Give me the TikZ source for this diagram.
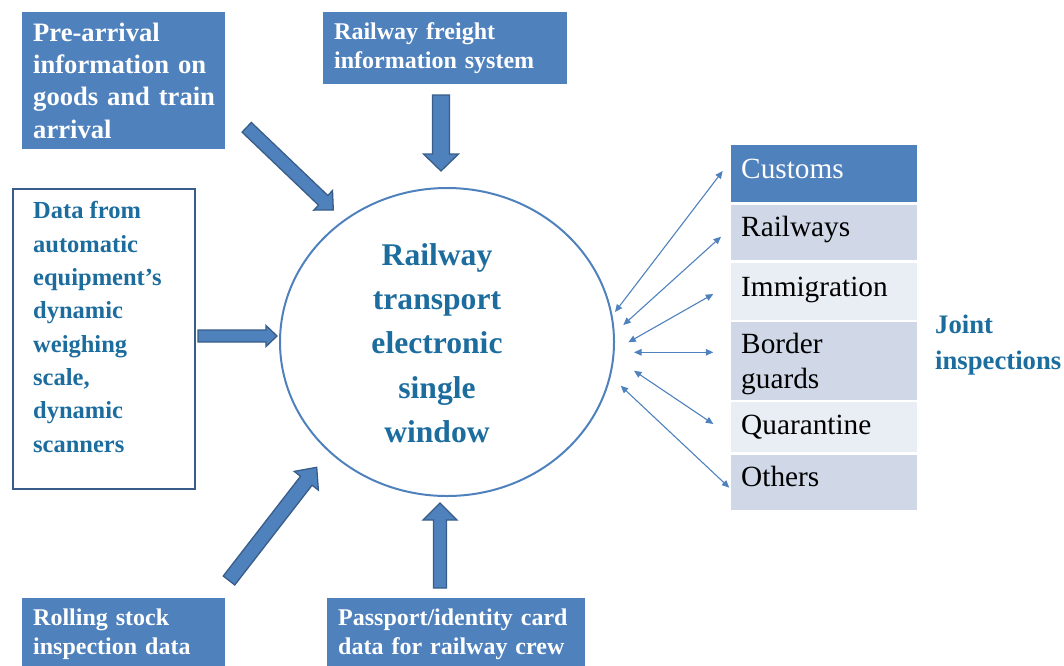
\documentclass[tikz,border=0pt]{standalone}
\usepackage{fontspec}
\setmainfont{Liberation Serif}
\usepackage{xcolor}
\usepackage{tikz}
\usetikzlibrary{positioning,calc,shapes.geometric,arrows.meta}
\definecolor{boxblue}{RGB}{79,129,189}
\definecolor{edgeblue}{RGB}{56,93,138}
\definecolor{textblue}{RGB}{28,108,158}
\definecolor{rowdark}{RGB}{208,216,232}
\definecolor{rowlight}{RGB}{233,237,244}
\tikzset{
    infobox/.style={rectangle, fill=boxblue, anchor=north west, align=left, text=white, inner xsep=11pt, inner ysep=0pt, font=\bfseries\fontsize{24}{28.3}\selectfont},
    tablerow/.style={rectangle, draw=white, line width=2.5pt, minimum width=188pt, inner sep=0pt, outer sep=0pt},
    rowtext/.style={anchor=base west, inner sep=0pt, align=left, font=\fontsize{29.3}{35}\selectfont},
    fatarrow/.style={fill=boxblue, draw=edgeblue, line width=1.3pt, line join=miter},
    thinarrow/.style={draw=boxblue, line width=1.1pt, {Triangle[length=7.5pt,width=6.5pt]}-{Triangle[length=7.5pt,width=6.5pt]}}
}
\newcommand{\blockarrow}[5]{% tail, tip, half shaft, half head, head length
    \coordinate (#2-hb) at ($(#2)!#5!(#1)$);
    \draw[fatarrow] ($(#1)!#3!90:(#2)$) -- ($(#2-hb)!#3!90:(#2)$) -- ($(#2-hb)!#4!90:(#2)$) -- (#2)
        -- ($(#2-hb)!#4!-90:(#2)$) -- ($(#2-hb)!#3!-90:(#2)$) -- ($(#1)!#3!-90:(#2)$) -- cycle;
}
\begin{document}
\begin{tikzpicture}[x=1pt, y=-1pt,
        hub/.style={ellipse, draw=boxblue, line width=2pt, minimum width=334pt, minimum height=308pt, inner sep=0pt},
        hubtext/.style={align=center, text=textblue, inner sep=0pt, font=\bfseries\fontsize{31.6}{44.2}\selectfont},
        sidetext/.style={anchor=north west, align=left, inner sep=0pt, text=textblue}
    ]
    \useasboundingbox (0,0) rectangle (1064,665);
    % --- Single window ---
    \node[hub] (hub) at (447,342) {};
    \node[hubtext] (hubtext) at (437,343) {Railway\\transport\\electronic\\single\\window};
    % --- Data sources ---
    \node[infobox, minimum width=203pt, minimum height=137pt, text width=181pt, font=\bfseries\fontsize{26.6}{32.2}\selectfont] (prearr) at (22,12) {Pre-arrival\\information on\\goods~and~train\\arrival};
    \node[infobox, minimum width=244pt, minimum height=72pt, text width=222pt] (freight) at (323,12) {Railway freight\\information system};
    \node[infobox, minimum width=203pt, minimum height=72pt, text width=181pt] (rolling) at (22,598) {Rolling stock\\inspection data};
    \node[infobox, minimum width=258pt, minimum height=72pt, text width=236pt, inner xsep=10pt] (passport) at (327,598) {Passport/identity~card\\data~for~railway~crew};
    \node[draw=edgeblue, line width=2pt, minimum width=182pt, minimum height=300pt, anchor=north west, inner sep=0pt] (scalebox) at (12,188) {};
    \node[sidetext, font=\bfseries\fontsize{24.5}{33.3}\selectfont] (scaletext) at (33,201.5) {Data from\\automatic\\equipment's\\dynamic\\weighing\\scale,\\dynamic\\scanners};
    % --- Block arrows ---
    \coordinate (prearr-tail) at (246.7,127.3);
    \coordinate (prearr-tip) at (333.3,210);
    \blockarrow{prearr-tail}{prearr-tip}{6.7pt}{13.5pt}{14pt}
    \coordinate (freight-tail) at (441,95);
    \coordinate (freight-tip) at (441,171);
    \blockarrow{freight-tail}{freight-tip}{8.5pt}{17.5pt}{17pt}
    \coordinate (scale-tail) at (198,336);
    \coordinate (scale-tip) at (277,336);
    \blockarrow{scale-tail}{scale-tip}{6pt}{10.5pt}{11pt}
    \coordinate (rolling-tail) at (229,580.5);
    \coordinate (rolling-tip) at (316.7,467.3);
    \blockarrow{rolling-tail}{rolling-tip}{7.3pt}{15.3pt}{17pt}
    \coordinate (passport-tail) at (440,588);
    \coordinate (passport-tip) at (440,503);
    \blockarrow{passport-tail}{passport-tip}{6.5pt}{17pt}{17pt}
    % --- Agencies ---
    \node[tablerow, fill=boxblue, minimum height=59.5pt, anchor=north west] (customs) at (730,144) {};
    \node[tablerow, fill=rowdark, minimum height=58.2pt, below=0pt of customs] (railways) {};
    \node[tablerow, fill=rowlight, minimum height=59.3pt, below=0pt of railways] (immigr) {};
    \node[tablerow, fill=rowdark, minimum height=80pt, below=0pt of immigr] (border) {};
    \node[tablerow, fill=rowlight, minimum height=52.3pt, below=0pt of border] (quarant) {};
    \node[tablerow, fill=rowdark, minimum height=58.2pt, below=0pt of quarant] (others) {};
    \node[rowtext, text=white] (customs-t) at ([shift={(11,34.3)}]customs.north west) {Customs};
    \node[rowtext] (railways-t) at ([shift={(11,33.2)}]railways.north west) {Railways};
    \node[rowtext] (immigr-t) at ([shift={(11,34.3)}]immigr.north west) {Immigration};
    \node[rowtext, anchor=north west] (border-t) at ([shift={(11,12.3)}]border.north west) {Border\\guards};
    \node[rowtext] (quarant-t) at ([shift={(11,33.3)}]quarant.north west) {Quarantine};
    \node[rowtext] (others-t) at ([shift={(11,33.4)}]others.north west) {Others};
    \node[sidetext, font=\bfseries\fontsize{26.7}{35.7}\selectfont] (joint) at (935,315) {Joint\\inspections};
    % --- Two-way links ---
    \coordinate (hub-1) at (615,312);   \coordinate (row-1) at (722.7,171);
    \coordinate (hub-2) at (623.3,325); \coordinate (row-2) at (721,236.7);
    \coordinate (hub-3) at (628.3,342.3); \coordinate (row-3) at (713.3,294);
    \coordinate (hub-4) at (634,352.3); \coordinate (row-4) at (713.3,352.3);
    \coordinate (hub-5) at (634,370.7); \coordinate (row-5) at (713.3,424);
    \coordinate (hub-6) at (620.7,385.7); \coordinate (row-6) at (729.3,487.7);
    \draw[thinarrow] (hub-1) -- (row-1);
    \draw[thinarrow] (hub-2) -- (row-2);
    \draw[thinarrow] (hub-3) -- (row-3);
    \draw[thinarrow] (hub-4) -- (row-4);
    \draw[thinarrow] (hub-5) -- (row-5);
    \draw[thinarrow] (hub-6) -- (row-6);
\end{tikzpicture}
\end{document}
